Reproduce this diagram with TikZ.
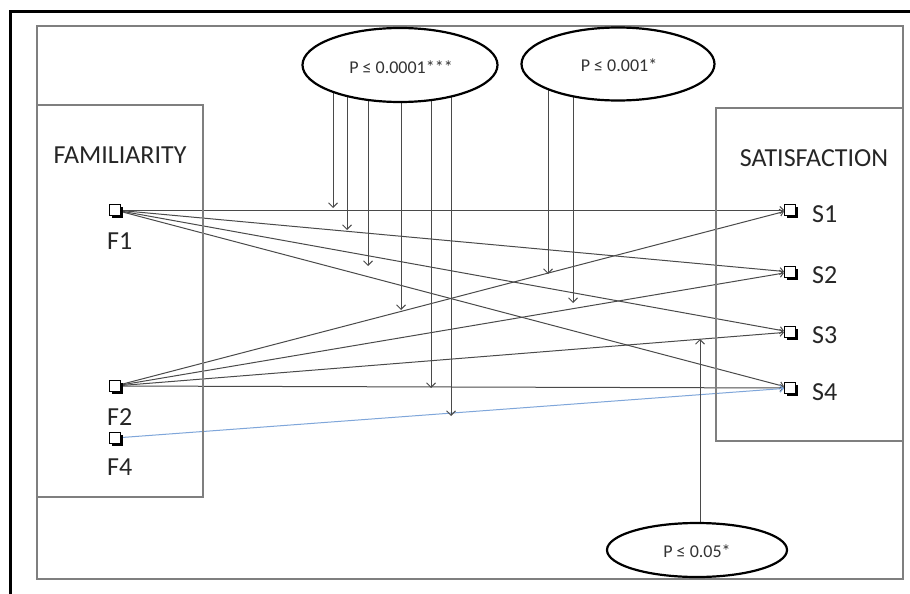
\documentclass[tikz,border=0pt]{standalone}
\usepackage{fontspec}
\setmainfont{Carlito}
\usetikzlibrary{arrows.meta,shadows,backgrounds,shapes.geometric}
\definecolor{framegray}{HTML}{7F7F7F}
\definecolor{linegray}{HTML}{4A4A4A}
\definecolor{bluel}{HTML}{7FA6DA}
\tikzset{
  sq/.style={draw=black,fill=white,line width=1pt,minimum size=11pt,inner sep=0pt,
    drop shadow={shadow xshift=2pt,shadow yshift=-2pt,opacity=1,fill=black}},
  lbl/.style={font=\fontsize{26}{28}\selectfont,text=black!85,inner sep=0pt},
  ptext/.style={font=\fontsize{18}{20}\selectfont,text=black!80},
  pell/.style={ellipse,draw=black,line width=2.2pt,fill=white,inner sep=0pt},
  edge/.style={draw=linegray,line width=1pt,-{Straight Barb[length=3.5pt,width=7pt]}},
  pv/.style={draw=linegray,line width=1pt,-{Straight Barb[length=4.5pt,width=9pt]}},
  box/.style={draw=framegray,line width=1.6pt}
}
\begin{document}
\begin{tikzpicture}[x=1pt,y=-1pt]
\useasboundingbox (0,0) rectangle (910,594);
\clip (0,0) rectangle (910,594);
\begin{scope}[on background layer]
\fill[white] (0,0) rectangle (910,594);
\end{scope}
% outer black frame
\draw[black,line width=3pt] (912,12) -- (10,12) -- (10,596);
% inner frame
\draw[framegray,line width=2.2pt] (37,26) rectangle (903,579);
% boxes
\draw[box] (37,105) rectangle (203,497);
\draw[box] (716,108) rectangle (903,441);
\node[lbl] (fam) at (120,155) {FAMILIARITY};
\node[lbl] (sat) at (814,158) {SATISFACTION};
% ellipses
\node[pell,minimum width=195pt,minimum height=74pt] (e1) at (400,65) {};
\node[ptext] (e1t) at (401,67) {P ≤ 0.0001***};
\node[pell,minimum width=193pt,minimum height=73pt] (e2) at (618,64) {};
\node[ptext] (e2t) at (619,65) {P ≤ 0.001*};
\node[pell,minimum width=180pt,minimum height=54pt] (e3) at (697,550) {};
\node[ptext] (e3t) at (697,551) {P ≤ 0.05*};
% squares
\node[sq] (F1) at (115,210) {};
\node[sq] (F2) at (115,386) {};
\node[sq] (F4) at (115,438) {};
\node[sq] (S1) at (790,210) {};
\node[sq] (S2) at (790,272) {};
\node[sq] (S3) at (790,332) {};
\node[sq] (S4) at (790,388) {};
\node[lbl,anchor=west] (F1l) at (107,241) {F1};
\node[lbl,anchor=west] (F2l) at (107,417) {F2};
\node[lbl,anchor=west] (F4l) at (107,467) {F4};
\node[lbl,anchor=west] (S1l) at (812,214) {S1};
\node[lbl,anchor=west] (S2l) at (812,275) {S2};
\node[lbl,anchor=west] (S3l) at (812,335) {S3};
\node[lbl,anchor=west] (S4l) at (812,392) {S4};
% tips of significance arrows
\coordinate (t1) at (333,208);
\coordinate (t2) at (347,230);
\coordinate (t3) at (368,266);
\coordinate (t4) at (401,310);
\coordinate (t5) at (431,388);
\coordinate (t6) at (451,416);
\coordinate (t7) at (548,274);
\coordinate (t8) at (573,303);
\coordinate (t9) at (700,339);
\begin{scope}[on background layer]
% structural paths
\draw[edge] (F1) -- (S1);
\draw[edge] (F1) -- (S2);
\draw[edge] (F1) -- (S3);
\draw[edge] (F1) -- (S4);
\draw[edge] (F2) -- (S1);
\draw[edge] (F2) -- (S2);
\draw[edge] (F2) -- (S3);
\draw[edge] (F2) -- (S4);
\draw[edge,draw=bluel] (F4) -- (S4);
% significance arrows
\foreach \t in {t1,t2,t3,t4,t5,t6}{\draw[pv] (e1.center -| \t) -- (\t);}
\foreach \t in {t7,t8}{\draw[pv] (e2.center -| \t) -- (\t);}
\draw[pv] (e3.center -| t9) -- (t9);
\end{scope}
\end{tikzpicture}
\end{document}
